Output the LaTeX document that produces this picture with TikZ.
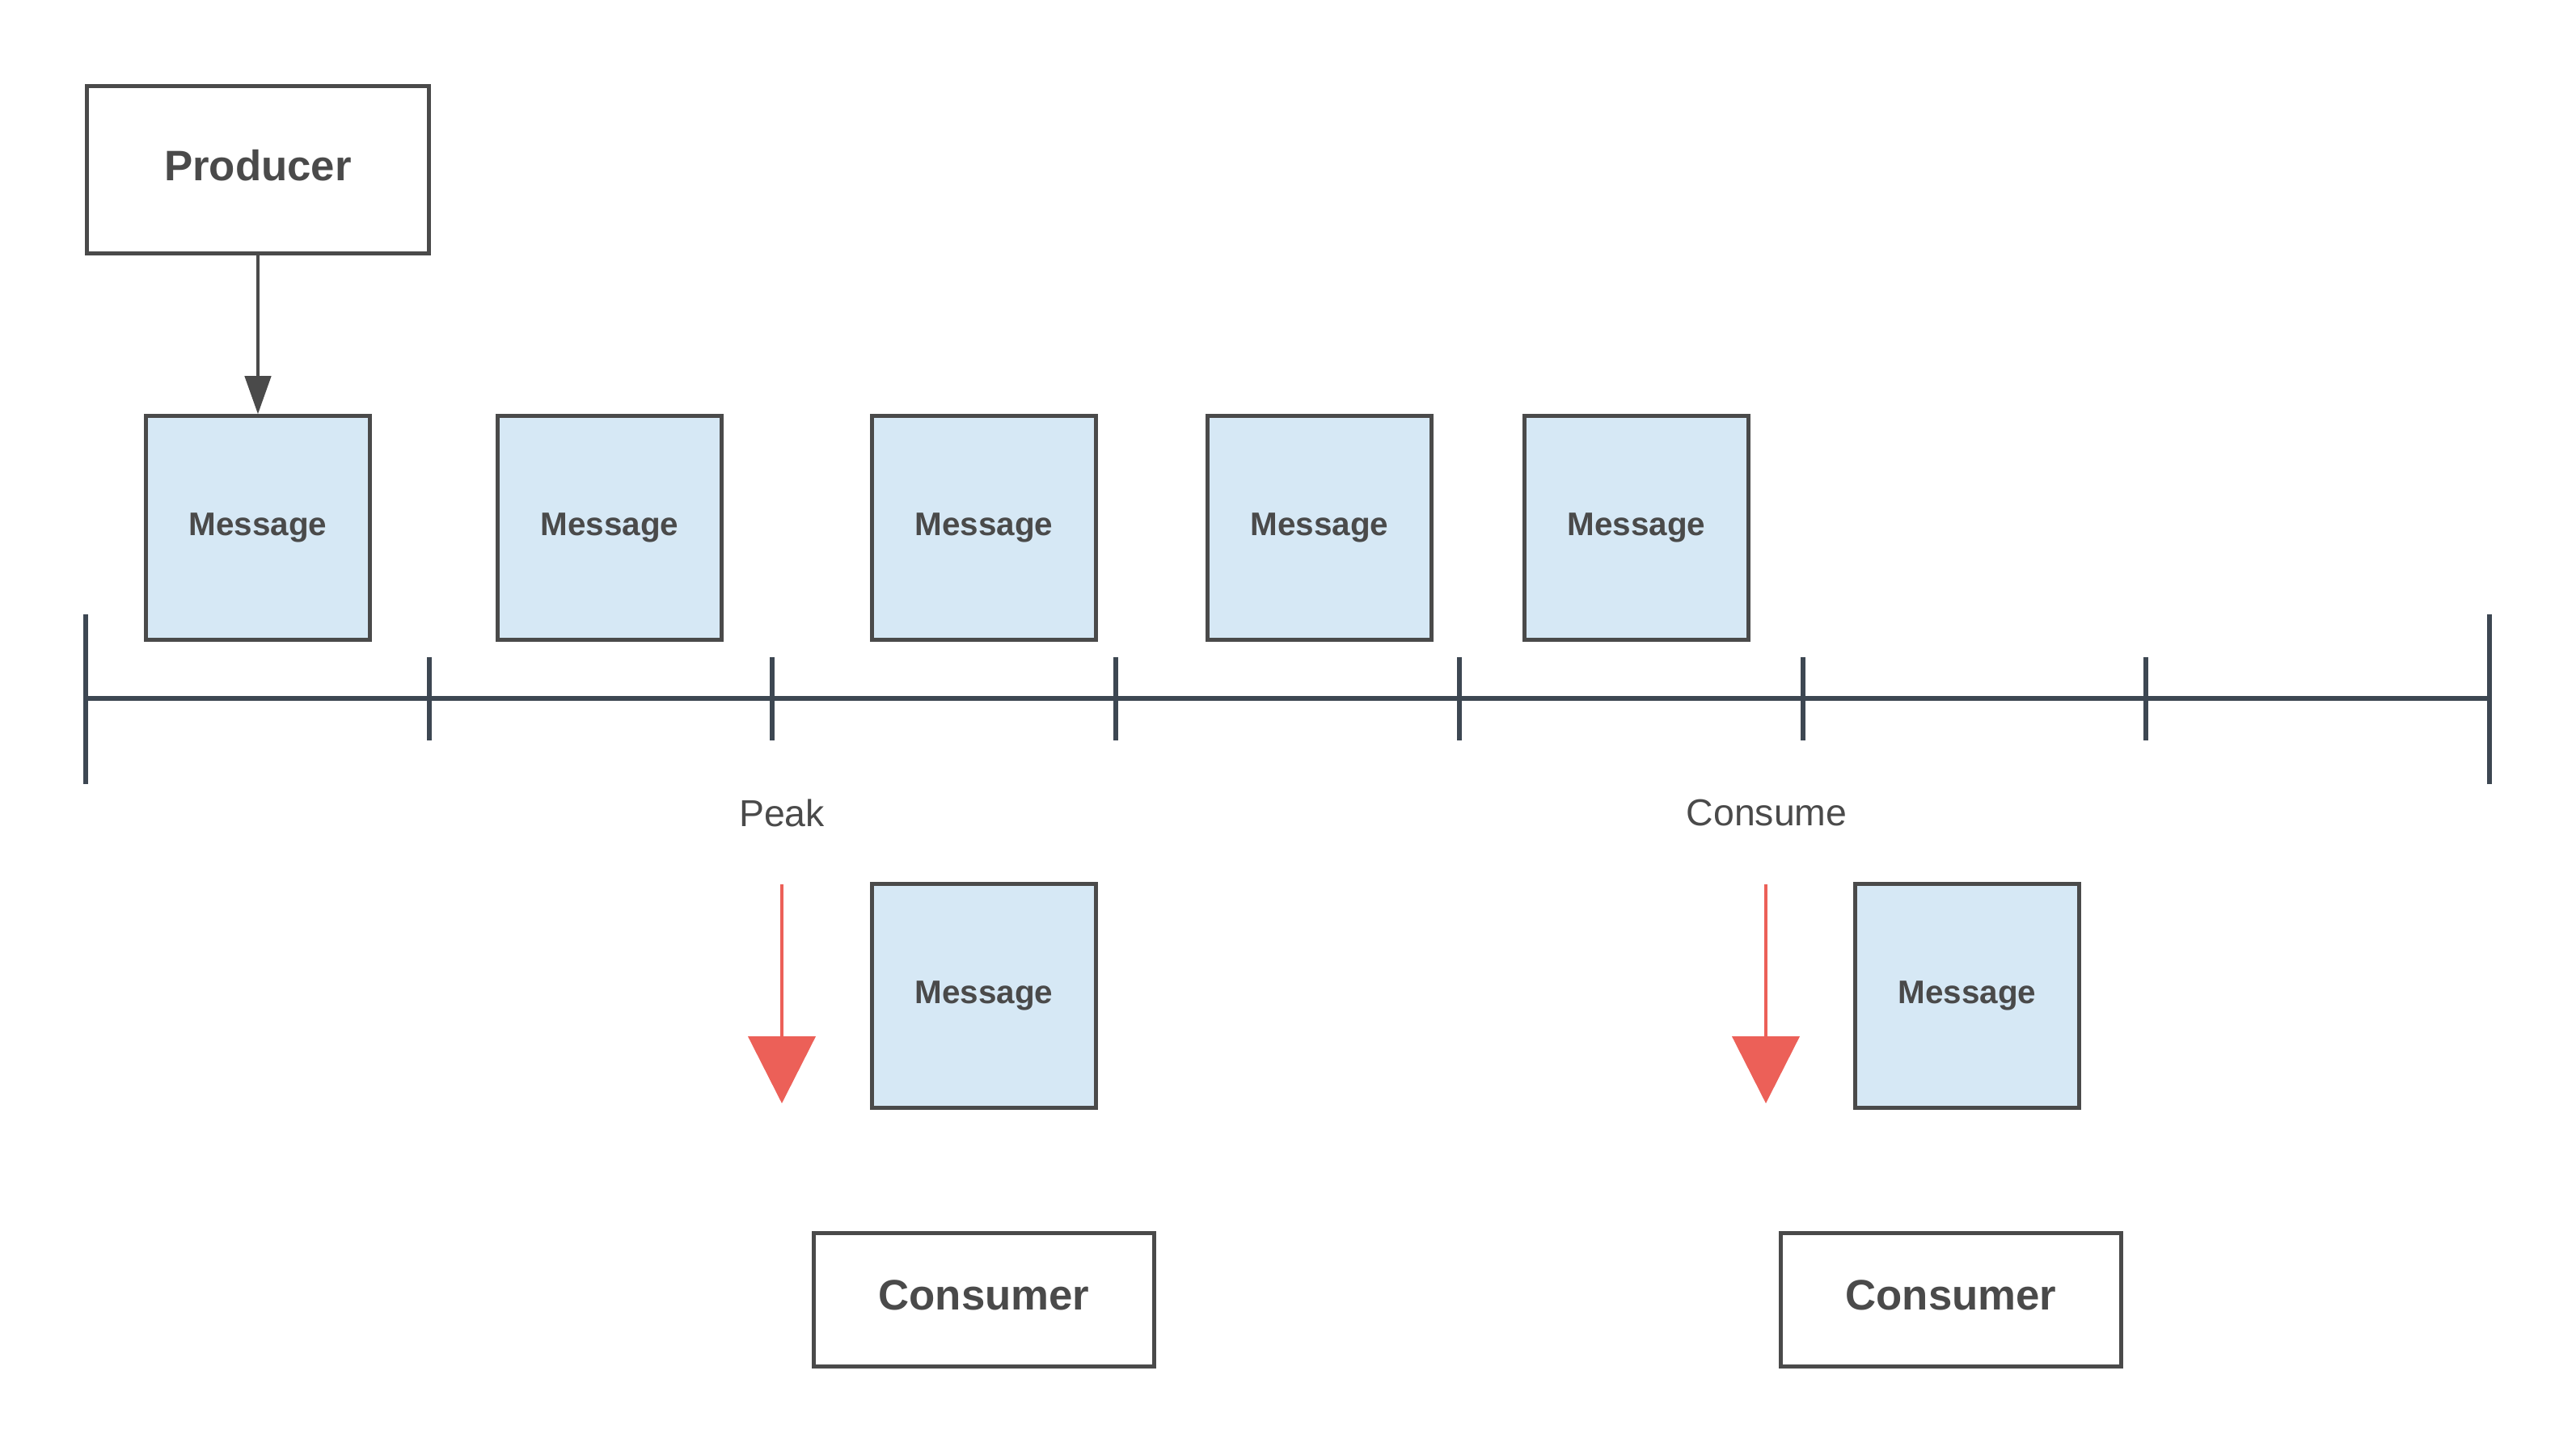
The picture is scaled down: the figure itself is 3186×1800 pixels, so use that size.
\documentclass[tikz,border=0pt]{standalone}
\usepackage{fontspec}
\setmainfont{Liberation Sans}
\usetikzlibrary{arrows.meta}
\definecolor{boxgray}{RGB}{74,74,74}
\definecolor{txtgray}{RGB}{74,74,74}
\definecolor{axisgray}{RGB}{61,71,82}
\definecolor{msgfill}{RGB}{214,232,245}
\definecolor{redarrow}{RGB}{236,96,88}
\newcommand\liftup[1]{\raisebox{3.4pt}{#1}}
\tikzset{
  bigbox/.style={draw=boxgray, line width=1.45pt, fill=white, minimum width=4.22cm, minimum height=2.06cm, inner sep=0pt, text=txtgray, font=\fontsize{15pt}{18pt}\selectfont\bfseries},
  consbox/.style={bigbox, minimum width=4.20cm, minimum height=1.65cm},
  msgbox/.style={draw=boxgray, line width=1.45pt, fill=msgfill, minimum width=2.76cm, minimum height=2.76cm, inner sep=0pt, text=txtgray, font=\fontsize{11.5pt}{14pt}\selectfont\bfseries},
  lbl/.style={text=txtgray, inner sep=0pt, font=\fontsize{13.2pt}{16pt}\selectfont},
  axis/.style={draw=axisgray, line width=1.7pt},
  feed/.style={draw=boxgray, line width=1.3pt, -{Triangle[width=9.1pt,length=13.4pt]}},
  redarr/.style={draw=redarrow, line width=1.2pt, -{Triangle[width=23.6pt,length=23.6pt]}}
}
\begin{document}
\begin{tikzpicture}[x=0.01cm,y=-0.01cm]
\useasboundingbox (0,0) rectangle (3186,1800);
% nodes
\node[bigbox] (prod) at (319,210) {\liftup{Producer}};
\node[msgbox] (m1) at (319,653) {Message};
\node[msgbox] (m2) at (754,653) {Message};
\node[msgbox] (m3) at (1217,653) {Message};
\node[msgbox] (m4) at (1632,653) {Message};
\node[msgbox] (m5) at (2024,653) {Message};
\node[msgbox] (m6) at (1217,1232) {Message};
\node[msgbox] (m7) at (2433,1232) {Message};
\node[consbox] (c1) at (1217,1608) {\liftup{Consumer}};
\node[consbox] (c2) at (2413,1608) {\liftup{Consumer}};
\node[lbl] (peak) at (967,1006) {Peak};
\node[lbl] (consume) at (2185,1006) {Consume};
% producer arrow
\draw[feed] (prod.south) -- (m1.north);
% timeline
\coordinate (t0) at (106,864);
\coordinate (t7) at (3079,864);
\draw[axis] (t0) -- (t7);
\draw[axis] (106,760) -- (106,970);
\draw[axis] (3079,760) -- (3079,970);
\foreach \k in {1,...,6} {
  \draw[axis] ({106+\k*424.7},813) -- ({106+\k*424.7},916);
}
% red arrows
\coordinate (pa) at (967,1094);
\coordinate (pb) at (967,1365);
\coordinate (ca) at (2184,1094);
\coordinate (cb) at (2184,1365);
\draw[redarr] (pa) -- (pb);
\draw[redarr] (ca) -- (cb);
\end{tikzpicture}
\end{document}
